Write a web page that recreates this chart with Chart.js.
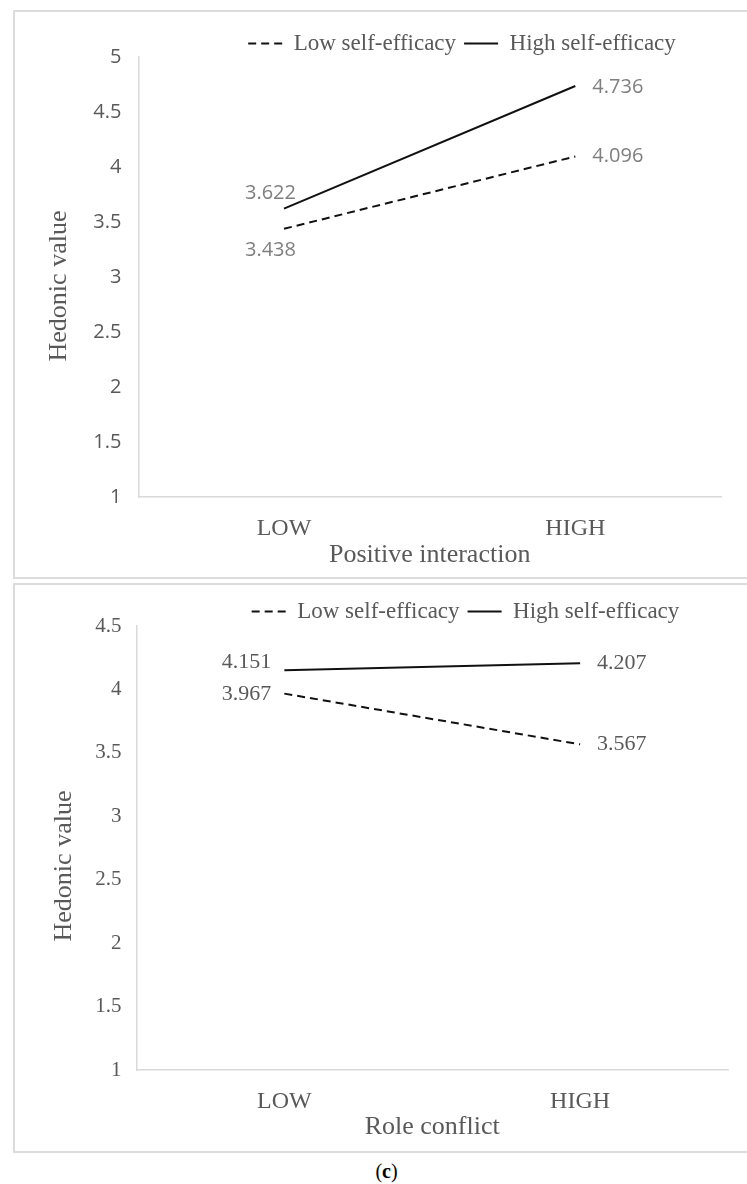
<!DOCTYPE html>
<html>
<head>
<meta charset="utf-8">
<script src="https://cdn.jsdelivr.net/npm/chart.js"></script>
<style>
  body { margin: 0; width: 747px; height: 1184px; overflow: hidden; background: #fff; position: relative; }
  .panel { position: absolute; left: 13px; width: 740px; box-sizing: border-box; border: 2px solid #dcdcdc; background: #fff; }
  .panel canvas { display: block; }
  .caption { position: absolute; left: 0; width: 747px; top: 1160px; padding-left: 26px; box-sizing: border-box;
             text-align: center; font: 20px "Liberation Serif", serif; color: #000; }
</style>
</head>
<body>
<div class="panel" style="top:10px; height:569px;"><canvas id="chartPI" width="736" height="565"></canvas></div>
<div class="panel" style="top:583px; height:570px;"><canvas id="chartRC" width="736" height="566"></canvas></div>
<div class="caption">(<b>c</b>)</div>

<script>
// data
const categories = ['LOW', 'HIGH'];
const seriesNames = ['Low self-efficacy', 'High self-efficacy'];

// (top) positive interaction
const piLowSE = [3.438, 4.096];
const piHighSE = [3.622, 4.736];
const piYMin = 1, piYMax = 5, piYStep = 0.5;

// (bottom) role conflict
const rcLowSE = [3.967, 3.567];
const rcHighSE = [4.151, 4.207];
const rcYMin = 1, rcYMax = 4.5, rcYStep = 0.5;

const SERIF = '"Liberation Serif", "Times New Roman", serif';
const SANS = '"Open Sans", "Noto Sans", sans-serif';
const TEXT_GREY = '#595959';
const LINE_COLOR = '#111';
const Y_TITLE = 'Hedonic value';

// prints the value next to each end of the lines
const valueLabels = {
    id: 'valueLabels',
    afterDatasetsDraw(chart, args, opts) {
        const ctx = chart.ctx;
        ctx.save();
        ctx.font = opts.font;
        ctx.fillStyle = opts.color;
        ctx.textBaseline = 'middle';
        chart.data.datasets.forEach((ds, i) => {
            const meta = chart.getDatasetMeta(i);
            meta.data.forEach((pt, j) => {
                const off = opts.offsets[i][j];
                ctx.textAlign = j === 0 ? 'right' : 'left';
                ctx.fillText(ds.data[j].toFixed(3), pt.x + off[0], pt.y + off[1]);
            });
        });
        ctx.restore();
    }
};

// legend sits off-centre in the original, nudge it after layout
const legendShift = {
    id: 'legendShift',
    afterLayout(chart, args, opts) {
        const lg = chart.legend;
        if (!lg) return;
        lg.left += opts.dx; lg.right += opts.dx;
        lg.top += opts.dy; lg.bottom += opts.dy;
    }
};

// y title is a bit below the plot centre in the original; the scale keeps
// its (transparent) title for spacing and this draws the visible one
const yTitle = {
    id: 'yTitle',
    afterDraw(chart, args, opts) {
        const ys = chart.scales.y;
        const t = ys.options.title;
        const ctx = chart.ctx;
        ctx.save();
        ctx.font = `${t.font.size}px ${SERIF}`;
        ctx.fillStyle = TEXT_GREY;
        ctx.textAlign = 'center';
        ctx.textBaseline = 'middle';
        const x = ys.left + t.padding.top + t.font.size * 1.2 / 2;
        const y = (chart.chartArea.top + chart.chartArea.bottom) / 2 + opts.dy;
        ctx.translate(x, y);
        ctx.rotate(-Math.PI / 2);
        ctx.fillText(Y_TITLE, 0, 0);
        ctx.restore();
    }
};

function makeChart(id, cfg) {
    return new Chart(document.getElementById(id), {
        type: 'line',
        data: {
            labels: categories,
            datasets: [
                {
                    label: seriesNames[0],
                    data: cfg.low,
                    borderColor: LINE_COLOR,
                    borderWidth: 2,
                    borderDash: [8, 5],
                    pointRadius: 0,
                    tension: 0
                },
                {
                    label: seriesNames[1],
                    data: cfg.high,
                    borderColor: LINE_COLOR,
                    borderWidth: 2,
                    pointRadius: 0,
                    tension: 0
                }
            ]
        },
        options: {
            responsive: false,
            animation: false,
            layout: { padding: { left: 4, right: cfg.padRight, top: cfg.padTop, bottom: 0 } },
            plugins: {
                tooltip: { enabled: false },
                legend: {
                    position: 'top',
                    labels: {
                        usePointStyle: true,
                        pointStyleWidth: 34,
                        padding: 8,
                        color: TEXT_GREY,
                        font: { family: SERIF, size: 23 },
                        generateLabels(chart) {
                            return chart.data.datasets.map((ds, i) => ({
                                text: ds.label,
                                datasetIndex: i,
                                pointStyle: 'line',
                                strokeStyle: ds.borderColor,
                                fillStyle: ds.borderColor,
                                lineWidth: ds.borderWidth,
                                lineDash: ds.borderDash || [],
                                fontColor: TEXT_GREY,
                                hidden: false
                            }));
                        }
                    }
                },
                legendShift: { dx: cfg.legendDx, dy: cfg.legendDy },
                valueLabels: { font: cfg.valueFont, color: cfg.valueColor, offsets: cfg.offsets },
                yTitle: { dy: cfg.yTitleDy }
            },
            scales: {
                x: {
                    offset: true,
                    grid: { display: false, drawTicks: false },
                    border: { display: true, color: '#d9d9d9', width: 1.5 },
                    ticks: { color: TEXT_GREY, padding: 17, font: { family: SERIF, size: 24 } },
                    title: {
                        display: true,
                        text: cfg.xTitle,
                        color: TEXT_GREY,
                        font: { family: SERIF, size: 26 },
                        padding: cfg.xTitlePad
                    }
                },
                y: {
                    min: cfg.yMin,
                    max: cfg.yMax,
                    grid: { display: false, drawTicks: false },
                    border: { display: true, color: '#d9d9d9', width: 1.5 },
                    ticks: {
                        stepSize: cfg.yStep,
                        color: TEXT_GREY,
                        padding: cfg.yTickPad,
                        font: cfg.tickFont,
                        callback: v => String(v)
                    },
                    title: {
                        display: true,
                        text: Y_TITLE,
                        color: 'rgba(0,0,0,0)',
                        font: { family: SERIF, size: 26 },
                        padding: cfg.yTitlePad
                    }
                }
            }
        },
        plugins: [valueLabels, legendShift, yTitle]
    });
}

makeChart('chartPI', {
    low: piLowSE, high: piHighSE,
    yMin: piYMin, yMax: piYMax, yStep: piYStep,
    xTitle: 'Positive interaction',
    tickFont: { family: SANS, size: 20 },
    valueFont: '20px ' + SANS,
    valueColor: '#7f7f7f',
    offsets: [[[12, 21], [17, 0]], [[12, -15], [17, 1]]],
    padRight: 30, padTop: 4,
    yTickPad: 17,
    yTitlePad: { top: 25, bottom: 1 },
    yTitleDy: 9,
    xTitlePad: { top: -20, bottom: 6 },
    legendDx: 92, legendDy: 8
});

makeChart('chartRC', {
    low: rcLowSE, high: rcHighSE,
    yMin: rcYMin, yMax: rcYMax, yStep: rcYStep,
    xTitle: 'Role conflict',
    tickFont: { family: SERIF, size: 21 },
    valueFont: '22px ' + SERIF,
    valueColor: TEXT_GREY,
    offsets: [[[-13, 1], [17, 0]], [[-13, -8], [17, 0]]],
    padRight: 23, padTop: 0,
    yTickPad: 15,
    yTitlePad: { top: 30, bottom: 0 },
    yTitleDy: 18,
    xTitlePad: { top: -21, bottom: 8 },
    legendDx: 92, legendDy: 7
});
</script>
</body>
</html>
